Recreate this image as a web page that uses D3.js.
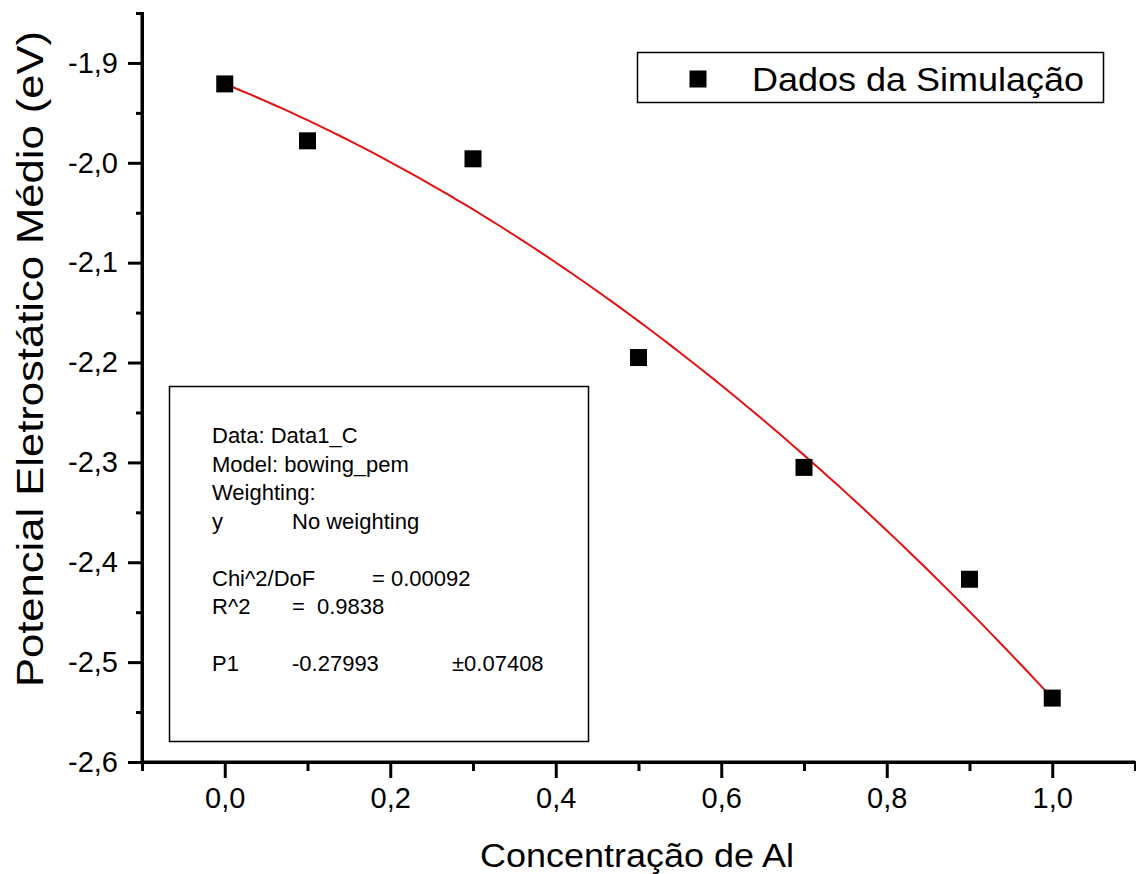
<!DOCTYPE html>
<html>
<head>
<meta charset="utf-8">
<script src="https://cdn.jsdelivr.net/npm/d3@7"></script>
<style>
  html, body { margin: 0; padding: 0; background: #fff; }
  svg { display: block; font-family: "Liberation Sans", Arial, sans-serif; }
</style>
</head>
<body>
<svg id="chart" width="1136" height="874"></svg>
<script>
// Simulated mean electrostatic potential vs Al concentration
const concentration = [0.0, 0.1, 0.3, 0.5, 0.7, 0.9, 1.0];
const potential = [-1.921, -1.978, -1.996, -2.195, -2.305, -2.417, -2.536];

// Fitted bowing parameter
const bowingP1 = -0.27993;

const xMajorTicks = [0.0, 0.2, 0.4, 0.6, 0.8, 1.0];
const xMinorTicks = [-0.1, 0.1, 0.3, 0.5, 0.7, 0.9, 1.1];
const yMajorTicks = [-2.6, -2.5, -2.4, -2.3, -2.2, -2.1, -2.0, -1.9];
const yMinorTicks = [-2.55, -2.45, -2.35, -2.25, -2.15, -2.05, -1.95, -1.85];

const fitLines = [
  { text: "Data: Data1_C", col: 0, row: 0 },
  { text: "Model: bowing_pem", col: 0, row: 1 },
  { text: "Weighting:", col: 0, row: 2 },
  { text: "y", col: 0, row: 3 },
  { text: "No weighting", col: 1, row: 3 },
  { text: "Chi^2/DoF", col: 0, row: 5 },
  { text: "= 0.00092", col: 2, row: 5 },
  { text: "R^2", col: 0, row: 6 },
  { text: "=", col: 1, row: 6 },
  { text: "0.9838", col: 3, row: 6 },
  { text: "P1", col: 0, row: 8 },
  { text: "-0.27993", col: 1, row: 8 },
  { text: "±0.07408", col: 4, row: 8 }
];

const svg = d3.select("#chart");
const x = d3.scaleLinear().domain([-0.1, 1.1]).range([142, 1135]);
const y = d3.scaleLinear().domain([-2.6, -1.85]).range([762, 13]);
const fmt = v => d3.format(".1f")(v).replace(".", ",").replace("−", "-");

// Fitted curve: linear interpolation between end members plus bowing term
const e0 = potential[0], e1 = potential[potential.length - 1];
const fitX = d3.range(0, 101).map(i => i / 100);
const fitData = fitX.map(c => [c, (1 - c) * e0 + c * e1 - bowingP1 * c * (1 - c)]);

svg.append("path")
  .datum(fitData)
  .attr("fill", "none")
  .attr("stroke", "#e5100f")
  .attr("stroke-width", 2)
  .attr("d", d3.line().x(d => x(d[0])).y(d => y(d[1])));

// Data markers
const sq = 17;
svg.append("g").selectAll("rect")
  .data(concentration.map((c, i) => [c, potential[i]]))
  .join("rect")
  .attr("x", d => x(d[0]) - sq / 2)
  .attr("y", d => y(d[1]) - sq / 2)
  .attr("width", sq)
  .attr("height", sq)
  .attr("fill", "#000");

// Axes
const xAxis = svg.append("g").attr("transform", `translate(0,${y(-2.6)})`);
xAxis.call(d3.axisBottom(x).tickValues(xMajorTicks).tickSize(16).tickPadding(9).tickFormat(fmt));
xAxis.append("g").call(d3.axisBottom(x).tickValues(xMinorTicks).tickSize(9).tickFormat(""));

const yAxis = svg.append("g").attr("transform", `translate(${x(-0.1)},0)`);
yAxis.call(d3.axisLeft(y).tickValues(yMajorTicks).tickSize(14).tickPadding(10).tickFormat(fmt));
yAxis.append("g").call(d3.axisLeft(y).tickValues(yMinorTicks).tickSize(6).tickFormat(""));

svg.selectAll(".domain").attr("stroke", "#000").attr("stroke-width", 3);
svg.selectAll(".tick line").attr("stroke", "#000").attr("stroke-width", 3);
svg.selectAll(".tick text")
  .attr("font-size", 29)
  .attr("fill", "#000")
  .attr("font-family", "Liberation Sans, Arial, sans-serif");
// Plain axis lines without end caps
xAxis.select(".domain").attr("d", `M${x(-0.1)},0H${x(1.1)}`);
yAxis.select(".domain").attr("d", `M0,${y(-2.6)}V${y(-1.85)}`);

// Axis titles
svg.append("text")
  .attr("x", 637).attr("y", 867)
  .attr("text-anchor", "middle")
  .attr("font-size", 34)
  .attr("textLength", 314)
  .attr("lengthAdjust", "spacingAndGlyphs")
  .text("Concentração de Al");

svg.append("text")
  .attr("transform", "translate(43,359) rotate(-90)")
  .attr("text-anchor", "middle")
  .attr("font-size", 36)
  .attr("textLength", 656)
  .attr("lengthAdjust", "spacingAndGlyphs")
  .text("Potencial Eletrostático Médio (eV)");

// Legend
const legend = svg.append("g");
legend.append("rect")
  .attr("x", 637.5).attr("y", 52.5).attr("width", 466).attr("height", 50)
  .attr("fill", "#fff").attr("stroke", "#000").attr("stroke-width", 1.5);
legend.append("rect")
  .attr("x", 698 - sq / 2).attr("y", 79 - sq / 2).attr("width", sq).attr("height", sq)
  .attr("fill", "#000");
legend.append("text")
  .attr("x", 752).attr("y", 91)
  .attr("font-size", 34)
  .attr("textLength", 332)
  .attr("lengthAdjust", "spacingAndGlyphs")
  .text("Dados da Simulação");

// Fit statistics box
const stats = svg.append("g");
stats.append("rect")
  .attr("x", 169.5).attr("y", 386.5).attr("width", 419).attr("height", 355)
  .attr("fill", "#fff").attr("stroke", "#000").attr("stroke-width", 1.5);
const colX = [212, 292, 372, 317, 452];
const rowY = r => 443 + r * 28.5;
stats.selectAll("text")
  .data(fitLines)
  .join("text")
  .attr("x", d => colX[d.col])
  .attr("y", d => rowY(d.row))
  .attr("font-size", 22)
  .text(d => d.text);
</script>
</body>
</html>
